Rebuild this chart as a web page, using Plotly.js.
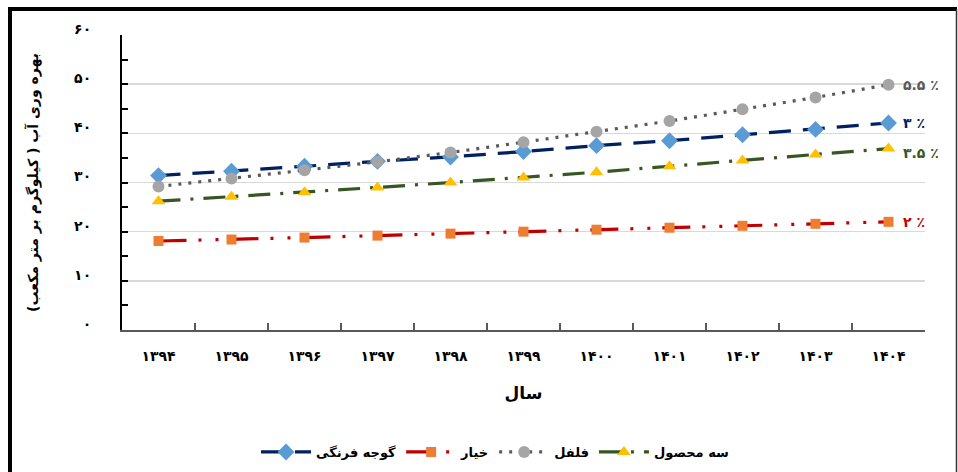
<!DOCTYPE html>
<html>
<head>
<meta charset="utf-8">
<script src="https://cdn.plot.ly/plotly-3.0.1.min.js"></script>
<style>html,body{margin:0;padding:0;background:#fff;}#chart{width:958px;height:472px;}</style>
</head>
<body>
<div id="chart"></div>
<script>
// Data
var years = ["۱۳۹۴","۱۳۹۵","۱۳۹۶","۱۳۹۷","۱۳۹۸","۱۳۹۹","۱۴۰۰","۱۴۰۱","۱۴۰۲","۱۴۰۳","۱۴۰۴"];
var seriesNames = ["گوجه فرنگی","خیار","فلفل","سه محصول"];
var tomato   = [31.4, 32.3, 33.3, 34.3, 35.2, 36.3, 37.5, 38.5, 39.7, 40.8, 42.1];
var cucumber = [18.1, 18.4, 18.8, 19.2, 19.6, 20.0, 20.4, 20.8, 21.2, 21.6, 22.0];
var pepper   = [29.2, 30.8, 32.5, 34.2, 36.1, 38.2, 40.3, 42.5, 44.9, 47.3, 49.9];
var three    = [26.2, 27.1, 28.0, 29.0, 30.0, 31.0, 32.1, 33.3, 34.5, 35.7, 36.9];
var growthLabels = ["۳ ٪","۲ ٪","۵.۵ ٪","۳.۵ ٪"];
var yTickVals = [0,10,20,30,40,50,60];
var yTickText = ["۰","۱۰","۲۰","۳۰","۴۰","۵۰","۶۰"];
var yTitle = "بهره وری آب ( کیلوگرم بر متر مکعب)";
var xTitle = "سال";

var FONT = "DejaVu Sans, Noto Sans, sans-serif";
var lineColors = ["#002060","#C00000","#595959","#375623"];
var markerColors = ["#5B9BD5","#ED7D31","#A5A5A5","#FFC000"];
var symbols = ["diamond","square","circle","triangle-up"];
var markerSizes = [13,10,12,12];
var dashes = ["22px,12px","28px,12px,3px,14px,3px,12px","3px,7px","22px,10px,3px,10px"];
var allSeries = [tomato, cucumber, pepper, three];

var traces = allSeries.map(function(vals,i){
  return {
    type:"scatter", mode:"lines+markers", name:seriesNames[i],
    x:years, y:vals,
    line:{color:lineColors[i], width:3.2, dash:dashes[i]},
    marker:{color:markerColors[i], symbol:symbols[i], size:markerSizes[i], line:{width:0}}
  };
});

var labelYShift = [0,0,0,-4];
var annotations = allSeries.map(function(vals,i){
  return {
    x:years[years.length-1], y:vals[vals.length-1], xref:"x", yref:"y",
    text:growthLabels[i], showarrow:false, xanchor:"left", yanchor:"middle",
    xshift:12, yshift:labelYShift[i],
    font:{family:FONT, size:14, color:lineColors[i], weight:"bold"}
  };
});

var W = 803, H = 295;
function px2x(p){ return (p-122)/W; }
function px2y(p){ return (330-p)/H; }
var shapes = [
  {type:"line", xref:"paper", yref:"paper", x0:px2x(10), x1:px2x(10), y0:px2y(7), y1:px2y(480), line:{color:"#000", width:4}},
  {type:"line", xref:"paper", yref:"paper", x0:px2x(8), x1:px2x(957), y0:px2y(9), y1:px2y(9), line:{color:"#000", width:4}},
  {type:"line", xref:"paper", yref:"paper", x0:px2x(956.5), x1:px2x(956.5), y0:px2y(9), y1:px2y(480), line:{color:"#333", width:1.5}}
];

var layout = {
  width:958, height:472,
  margin:{l:122, r:33, t:35, b:142, autoexpand:false},
  paper_bgcolor:"#fff", plot_bgcolor:"#fff",
  font:{family:FONT, color:"#000"},
  showlegend:true,
  legend:{orientation:"h", x:px2x(495), xanchor:"center", y:px2y(452), yanchor:"middle",
          font:{family:FONT, size:13, color:"#000", weight:"bold"}, itemwidth:50, bgcolor:"rgba(0,0,0,0)"},
  xaxis:{
    type:"category", range:[-0.5, 10.5], autorange:false,
    showline:true, linecolor:"#595959", linewidth:2, automargin:false,
    ticks:"inside", ticklen:7, tickcolor:"#595959", tickwidth:2, tickson:"boundaries",
    showgrid:false, zeroline:false,
    tickfont:{family:FONT, size:14, color:"#000", weight:"bold"}, ticklabelstandoff:12,
    title:{text:xTitle, standoff:24, font:{family:FONT, size:17, color:"#000", weight:"bold"}}
  },
  yaxis:{
    range:[0,60], autorange:false, showline:true, linecolor:"#000", linewidth:2, automargin:false,
    tickvals:yTickVals, ticktext:yTickText,
    ticks:"inside", ticklen:6, tickcolor:"#000", tickwidth:2,
    minor:{dtick:5, ticks:"inside", ticklen:6, tickcolor:"#000", tickwidth:2, showgrid:false},
    showgrid:true, gridcolor:"#D9D9D9", gridwidth:1.5, zeroline:false,
    tickfont:{family:FONT, size:14, color:"#000", weight:"bold"}, ticklabelstandoff:26, ticklabelshift:-6,
    title:{text:yTitle, standoff:32, font:{family:FONT, size:14, color:"#000", weight:"bold"}}
  },
  annotations:annotations,
  shapes:shapes
};

Plotly.newPlot("chart", traces, layout, {displayModeBar:false, staticPlot:true});
</script>
</body>
</html>
